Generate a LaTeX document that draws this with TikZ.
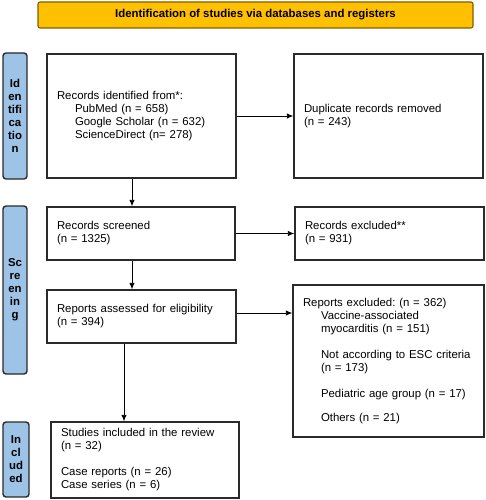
\documentclass[tikz,border=0pt]{standalone}
\usepackage{fontspec}
\setmainfont{Liberation Sans}
\usetikzlibrary{arrows.meta}
\frenchspacing
\definecolor{gold}{HTML}{FFC000}
\definecolor{goldline}{HTML}{7F6000}
\definecolor{barblue}{HTML}{9DC3E6}
\definecolor{edge}{HTML}{2A2A2A}
\tikzset{
  txt/.style={font=\fontsize{11.4}{13}\selectfont},
  box/.style={txt, draw=edge, line width=1.4pt, rectangle, align=left, inner xsep=10pt, inner ysep=2pt},
  bar/.style={font=\bfseries\fontsize{11.4}{13}\selectfont, draw=edge, line width=1.4pt, fill=barblue, rounded corners=3pt, align=center, inner sep=0pt},
  titlebox/.style={font=\bfseries\fontsize{11.4}{13}\selectfont, draw=goldline, line width=1.1pt, fill=gold, rounded corners=2pt, align=center, inner sep=0pt},
  arr/.style={draw=black, line width=0.9pt, -{Latex[length=6.5pt,width=5.5pt]}}
}
\begin{document}
\begin{tikzpicture}[x=1pt,y=-1pt]
\useasboundingbox (0,0) rectangle (486,500);
% title
\node[titlebox, minimum width=435pt, minimum height=26pt] (title) at (255.5,15) {Identification of studies via databases and registers};
% side bars
\node[bar, minimum width=24pt, minimum height=126pt] (idbar) at (15,116) {Id\\en\\tifi\\ca\\tio\\n};
\node[bar, minimum width=24pt, minimum height=168pt] (scbar) at (15,290) {Sc\\re\\en\\in\\g};
\node[bar, minimum width=26pt, minimum height=75pt] (inbar) at (16,459.5) {In\\cl\\ud\\ed};
% boxes
\node[box, text width=169pt, minimum height=124pt] (rid) at (141.5,116)
  {\rule{0pt}{4pt}Records identified from*:\\\hspace*{18pt}PubMed (n = 658)\\\hspace*{18pt}Google Scholar (n = 632)\\\hspace*{18pt}ScienceDirect (n= 278)};
\node[box, text width=169pt, minimum height=124pt] (dup) at (388.5,116)
  {Duplicate records removed\\(n = 243)};
\node[box, text width=168pt, minimum height=53pt] (scr) at (141,233.5)
  {Records screened\\(n = 1325)};
\node[box, text width=169pt, minimum height=53pt] (rex) at (389.5,233.5)
  {Records excluded**\\(n = 931)};
\node[box, text width=169pt, minimum height=53pt] (ass) at (141.5,316.5)
  {Reports assessed for eligibility\\(n = 394)};
\node[box, text width=171pt, minimum height=152pt] (rep) at (388.5,361)
  {Reports excluded: (n = 362)\\\hspace*{18pt}Vaccine-associated\\\hspace*{18pt}myocarditis (n = 151)\\[13pt]\hspace*{18pt}Not according to ESC criteria\\\hspace*{18pt}(n = 173)\\[13pt]\hspace*{18pt}Pediatric age group (n = 17)\\[11pt]\hspace*{18pt}Others (n = 21)};
\node[box, text width=168pt, minimum height=76pt] (inc) at (145,460)
  {Studies included in the review\\(n = 32)\\[13pt]Case reports (n = 26)\\Case series (n = 6)};
% connectors
\draw[arr] (rid.east) -- (dup.west);
\draw[arr] ([xshift=-9.5pt]rid.south) -- ([xshift=-9.5pt]rid.south |- scr.north);
\draw[arr] (scr.east) -- (rex.west);
\draw[arr] ([xshift=-9pt]scr.south) -- ([xshift=-9pt]scr.south |- ass.north);
\draw[arr] ([yshift=3.5pt]ass.east) -- ([yshift=3.5pt]ass.east -| rep.west);
\draw[arr] ([xshift=-17.5pt]ass.south) -- ([xshift=-17.5pt]ass.south |- inc.north);
\end{tikzpicture}
\end{document}
